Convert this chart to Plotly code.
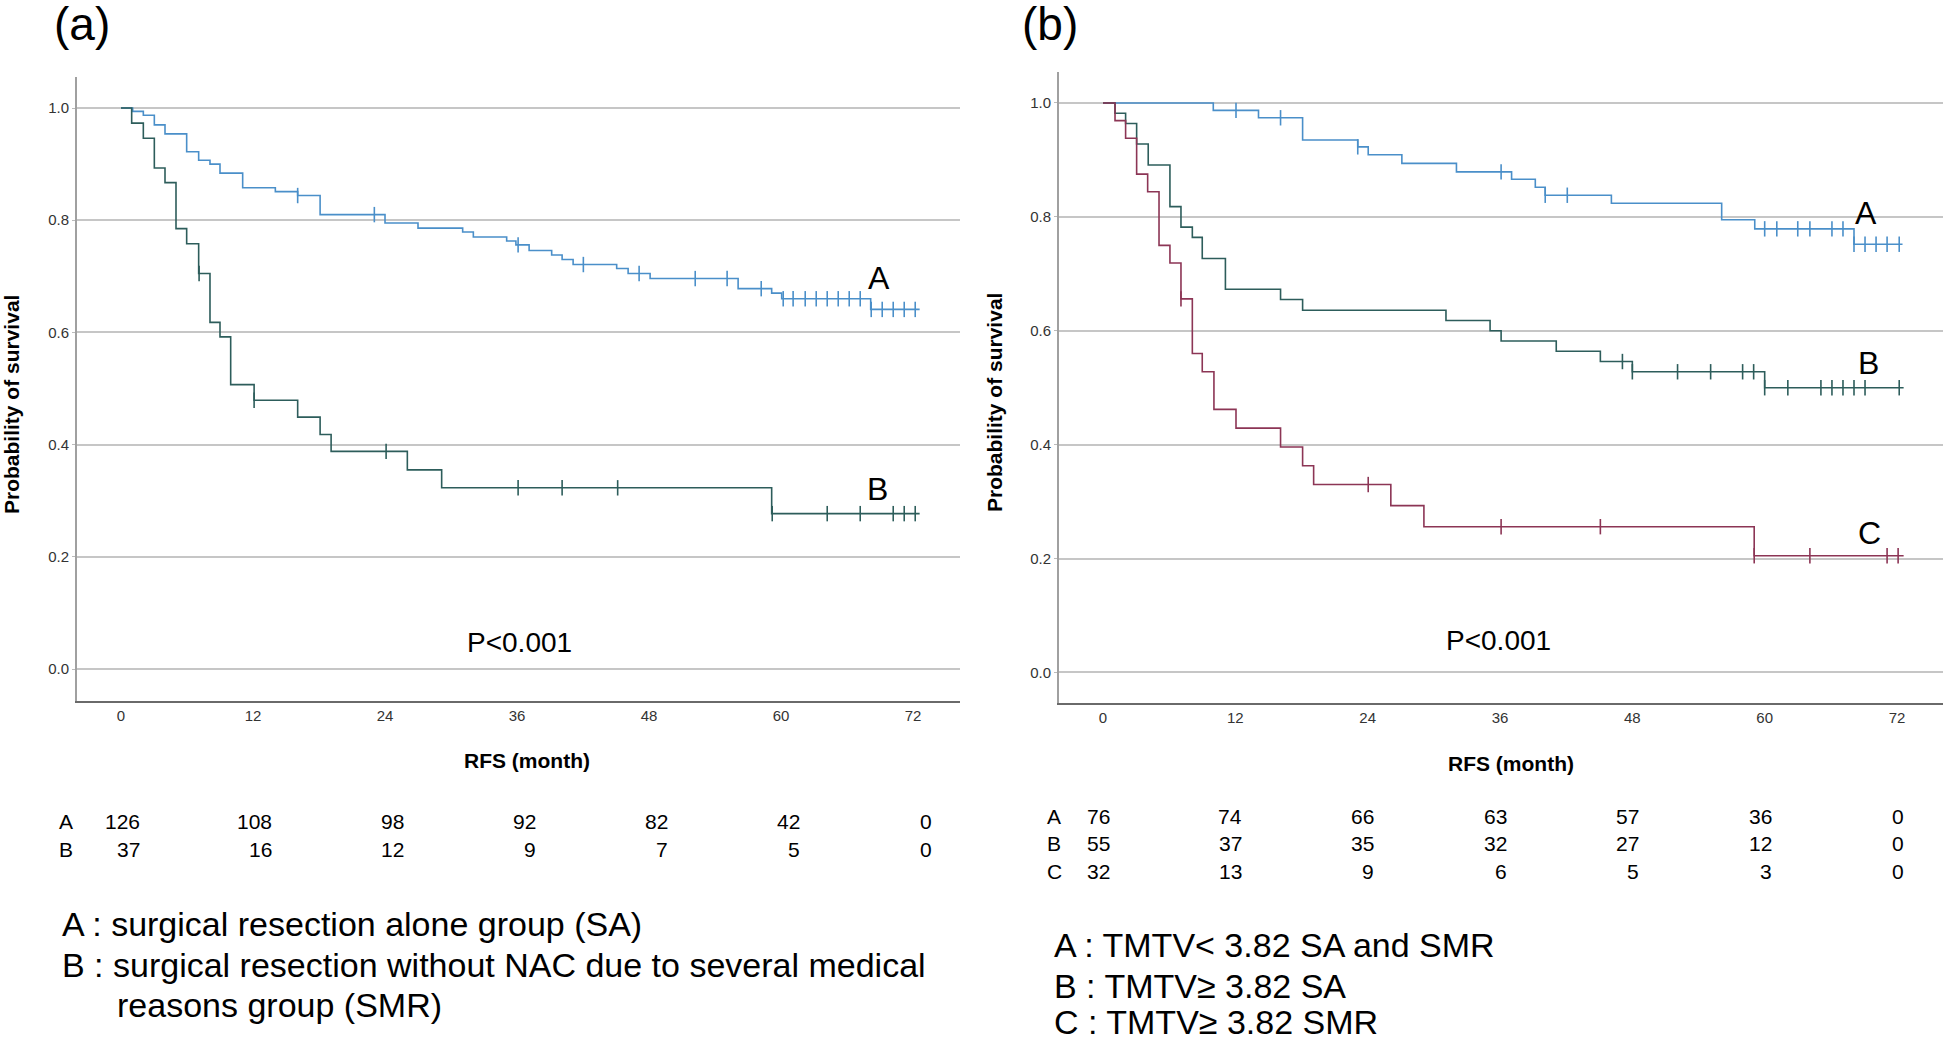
import plotly.graph_objects as go

W, H = 1945, 1039

months = [0, 12, 24, 36, 48, 60, 72]
surv_ticks = [0.0, 0.2, 0.4, 0.6, 0.8, 1.0]

# --------------------------------------------------
# Panel (a): SA vs SMR
# --------------------------------------------------
a_A_time = [0, 1.06, 2.03, 3.03, 4.0, 5.97, 7.06, 8.09, 9.0, 11.06, 14.03, 16.06, 18.1,
            24.0, 27.0, 31.06, 32.03, 35.06, 35.9, 37.1, 39.15, 40.1, 41.1, 45.06,
            46.1, 48.1, 56.1, 59.15, 60.06, 68.15]
a_A_surv = [1.0, 0.994, 0.987, 0.970, 0.954, 0.922, 0.907, 0.900, 0.884, 0.858, 0.851, 0.844, 0.810,
            0.795, 0.786, 0.779, 0.770, 0.763, 0.756, 0.746, 0.738, 0.730, 0.721, 0.714,
            0.705, 0.696, 0.678, 0.670, 0.660, 0.641]
a_A_cens = [16.06, 23.03, 36.1, 42.03, 47.1, 52.2, 55.1, 58.2, 60.2, 61.1, 62.2, 63.2, 64.2,
            65.2, 66.2, 67.2, 68.2, 69.2, 70.2, 71.2, 72.2]
a_A_end = 72.6

a_B_time = [0, 0.97, 2.03, 3.03, 4.0, 5.0, 5.97, 7.06, 8.09, 9.0, 9.97, 12.1, 16.06, 18.1,
            19.1, 26.03, 29.15, 59.15]
a_B_surv = [1.0, 0.973, 0.946, 0.893, 0.867, 0.785, 0.758, 0.705, 0.618, 0.592, 0.507, 0.479,
            0.449, 0.418, 0.388, 0.355, 0.323, 0.277]
a_B_cens = [7.1, 12.1, 24.1, 36.1, 40.1, 45.15, 59.2, 64.2, 67.2, 70.2, 71.2, 72.2]
a_B_end = 72.6

a_risk_A = [126, 108, 98, 92, 82, 42, 0]
a_risk_B = [37, 16, 12, 9, 7, 5, 0]

# --------------------------------------------------
# Panel (b): TMTV groups
# --------------------------------------------------
b_A_time = [0, 10.0, 14.1, 18.1, 23.1, 24.05, 27.1, 32.05, 37.05, 39.2, 40.1, 46.1, 56.1, 59.1, 68.1]
b_A_surv = [1.0, 0.987, 0.974, 0.935, 0.923, 0.909, 0.894, 0.879, 0.866, 0.852, 0.838, 0.824,
            0.795, 0.779, 0.752]
b_A_cens = [12.06, 16.1, 23.1, 36.1, 40.1, 42.1, 60.0, 61.1, 63.0, 64.1, 66.1, 67.1, 68.1,
            69.1, 70.1, 71.1, 72.2]
b_A_end = 72.5

b_B_time = [0, 1.09, 2.05, 3.05, 4.1, 6.07, 7.07, 8.1, 9.0, 11.1, 16.1, 18.1, 31.1, 35.1, 36.1,
            41.1, 45.1, 48.0, 60.0]
b_B_surv = [1.0, 0.982, 0.964, 0.928, 0.891, 0.818, 0.782, 0.764, 0.727, 0.673, 0.655, 0.636,
            0.618, 0.600, 0.582, 0.564, 0.546, 0.528, 0.500]
b_B_cens = [47.1, 48.0, 52.1, 55.1, 58.0, 59.0, 60.0, 62.1, 65.1, 66.1, 67.1, 68.1, 69.1, 72.2]
b_B_end = 72.6

b_C_time = [0, 1.09, 2.05, 3.05, 4.05, 5.08, 6.07, 7.07, 8.1, 9.0, 10.06, 12.06, 16.1, 18.1,
            19.1, 26.1, 29.1, 59.05]
b_C_surv = [1.0, 0.969, 0.938, 0.875, 0.844, 0.750, 0.719, 0.656, 0.560, 0.528, 0.462, 0.429,
            0.396, 0.363, 0.330, 0.293, 0.256, 0.205]
b_C_cens = [7.07, 24.05, 36.1, 45.1, 59.05, 64.1, 71.1, 72.1]
b_C_end = 72.6

b_risk_A = [76, 74, 66, 63, 57, 36, 0]
b_risk_B = [55, 37, 35, 32, 27, 12, 0]
b_risk_C = [32, 13, 9, 6, 5, 3, 0]

legend_a = ["A : surgical resection alone group (SA)",
            "B : surgical resection without NAC due to several medical",
            "reasons group (SMR)"]
legend_b = ["A : TMTV< 3.82 SA and SMR",
            "B : TMTV\u2265 3.82 SA",
            "C : TMTV\u2265 3.82 SMR"]

COL_A = "#4a8fc9"
COL_B = "#2d5d5b"
COL_C = "#8c3555"

FONT = "Liberation Sans, Arial, sans-serif"
NARROW = "Liberation Sans Narrow, Arial Narrow, Liberation Sans, sans-serif"


def surv_at(times, surv, t):
    s = surv[0]
    for ti, si in zip(times, surv):
        if ti <= t + 1e-9:
            s = si
    return s


def add_km(fig, times, surv, cens, end, color, xa, ya):
    fig.add_trace(go.Scatter(
        x=times + [end], y=surv + [surv[-1]],
        mode='lines', line=dict(color=color, width=1.6, shape='hv'),
        xaxis=xa, yaxis=ya, hoverinfo='skip'
    ))
    fig.add_trace(go.Scatter(
        x=cens, y=[surv_at(times, surv, c) for c in cens],
        mode='markers',
        marker=dict(symbol='line-ns', size=11, line=dict(color=color, width=1.6)),
        xaxis=xa, yaxis=ya, hoverinfo='skip'
    ))


def px(x):
    return x / W


def py(y):
    return 1 - y / H


fig = go.Figure()

add_km(fig, a_A_time, a_A_surv, a_A_cens, a_A_end, COL_A, 'x', 'y')
add_km(fig, a_B_time, a_B_surv, a_B_cens, a_B_end, COL_B, 'x', 'y')

add_km(fig, b_A_time, b_A_surv, b_A_cens, b_A_end, COL_A, 'x2', 'y2')
add_km(fig, b_B_time, b_B_surv, b_B_cens, b_B_end, COL_B, 'x2', 'y2')
add_km(fig, b_C_time, b_C_surv, b_C_cens, b_C_end, COL_C, 'x2', 'y2')

xaxis_common = dict(
    tickvals=months, showgrid=False, zeroline=False,
    showline=True, linecolor='#6a6a6a', linewidth=2,
    ticks='', tickfont=dict(family=FONT, size=15, color='#333'),
)
yaxis_common = dict(
    tickvals=surv_ticks, tickformat='.1f', zeroline=False,
    showgrid=True, gridcolor='#c6c6c6', gridwidth=1.5,
    showline=True, linecolor='#a0a0a0', linewidth=2,
    ticks='outside', ticklen=3, tickcolor='#bbb',
    tickfont=dict(family=FONT, size=15, color='#333'),
)

fig.update_layout(
    width=W, height=H,
    margin=dict(l=0, r=0, t=0, b=0),
    paper_bgcolor='white', plot_bgcolor='white',
    showlegend=False,
    xaxis=dict(xaxis_common, domain=[px(77), px(960)], range=[-4.0, 76.27], anchor='y'),
    yaxis=dict(yaxis_common, domain=[py(701), py(77)], range=[-0.057, 1.0553], anchor='x'),
    xaxis2=dict(xaxis_common, domain=[px(1059), px(1943)], range=[-3.99, 76.17], anchor='y2'),
    yaxis2=dict(yaxis_common, domain=[py(703), py(72)], range=[-0.0536, 1.0544], anchor='x2'),
)

ann = []


def label(text, x, y, size, xanchor='center', family=FONT, weight='normal', angle=0):
    ann.append(dict(
        text=text, x=px(x), y=py(y), xref='paper', yref='paper',
        xanchor=xanchor, yanchor='middle', showarrow=False, textangle=angle,
        font=dict(family=family, size=size, color='black', weight=weight)
    ))


# panel letters
label("(a)", 82, 24, 46)
label("(b)", 1050, 24, 46)

# axis titles
label("Probability of survival", 11, 405, 21, weight='bold', angle=-90)
label("Probability of survival", 994, 403, 21, weight='bold', angle=-90)
label("RFS (month)", 527, 760, 21, weight='bold')
label("RFS (month)", 1511, 763, 21, weight='bold')

# p values
label("P<0.001", 519, 642, 28)
label("P<0.001", 1498, 640, 28)

# curve labels
label("A", 879, 278, 32)
label("B", 877, 489, 32)
label("A", 1866, 213, 32)
label("B", 1868, 363, 32)
label("C", 1869, 533, 32)

# number at risk
for name, row, y in [("A", a_risk_A, 821), ("B", a_risk_B, 849)]:
    label(name, 66, y, 21, family=NARROW)
    for m, n in zip(months, row):
        ann.append(dict(
            text=str(n), x=m + 1.9, y=py(y), xref='x', yref='paper',
            xanchor='right', yanchor='middle', showarrow=False,
            font=dict(family=NARROW, size=21, color='black')
        ))

for name, row, y in [("A", b_risk_A, 816), ("B", b_risk_B, 843), ("C", b_risk_C, 871)]:
    label(name, 1054, y, 21, family=NARROW)
    for m, n in zip(months, row):
        ann.append(dict(
            text=str(n), x=m + 0.8, y=py(y), xref='x2', yref='paper',
            xanchor='right', yanchor='middle', showarrow=False,
            font=dict(family=NARROW, size=21, color='black')
        ))

# group descriptions
label(legend_a[0], 60, 924, 34, xanchor='left')
label(legend_a[1], 60, 965, 34, xanchor='left')
label(legend_a[2], 115, 1005, 34, xanchor='left')
label(legend_b[0], 1052, 945, 34, xanchor='left')
label(legend_b[1], 1052, 986, 34, xanchor='left')
label(legend_b[2], 1052, 1022, 34, xanchor='left')

fig.update_layout(annotations=ann)

fig.write_html(
    "out.html",
    config={'displayModeBar': False},
    post_script="document.body.style.margin='0';document.body.style.overflow='hidden';"
)
